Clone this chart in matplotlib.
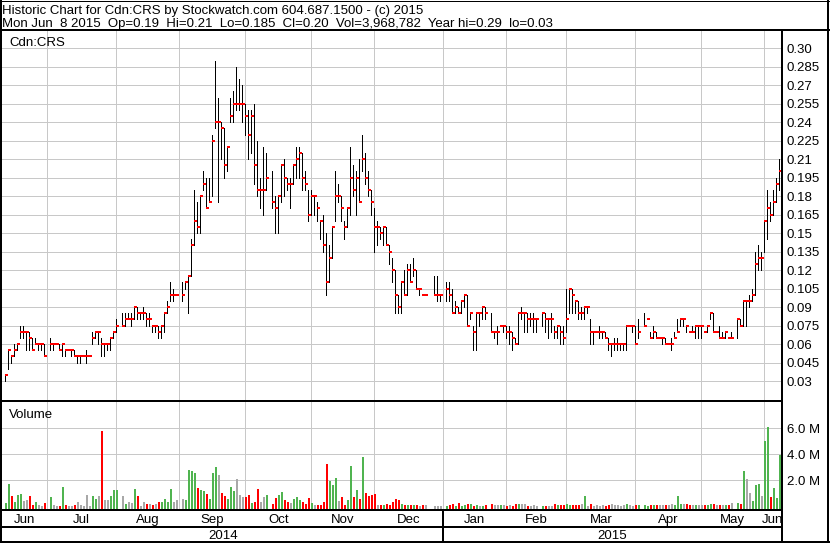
import matplotlib
matplotlib.use("Agg")
import matplotlib.pyplot as plt
import numpy as np

plt.rcParams['font.family'] = ['Liberation Sans', 'DejaVu Sans']

# daily bars, Jun 2014 - Jun 8 2015 (None = no trading / holiday)
highs = [
    .035, .055, .05, .06, .06, .075, .075, .07, .07, .065,
    .065, .06, .06, .06, None, .065, .06, .06, .06, .06,
    .055, .055, .055, .055, .05, .05, .05, .055, .05, .07,
    .07, .07, .065, .06, .06, .065, .07, .08, None, .085,
    .085, .085, .085, .09, .09, .085, .09, .085, .085, .075,
    .075, .075, .075, .085, .095, .11, .105, .10, None, .11,
    .11, .115, .145, .185, .175, .18, .20, .195, .195, .23,
    .29, .26, .24, .235, .22, .26, .265, .285, .275, .27,
    .255, .25, .25, .255, .225, .195, .22, .215, None, .20,
    .18, .18, .205, .21, .195, .195, .205, .22, .22, .215,
    .20, .185, .185, .18, .175, .16, .165, .15, .14, .155,
    .20, .19, .18, .16, .17, .22, .205, .20, .21, .23,
    .215, .20, .185, .17, .16, .155, .155, .155, .14, .13,
    .12, .10, .11, .12, .125, .125, .13, .12, .105, .10,
    .10, None, None, .115, .115, .10, None, .11, .11, .105,
    .095, .09, .095, .10, .10, .085, .075, .085, .085, .09,
    .09, None, .085, .07, .075, .075, .075, .075, .075, .07,
    .065, .085, .09, .085, .085, .085, .085, .08, None, .085,
    .085, .08, .085, .075, .075, .075, .075, .105, .105, .105,
    .095, .095, .09, .09, .09, .08, .07, .07, .075, .07,
    .07, .065, .06, .065, .065, .06, .06, .075, .075, .075,
    .075, .08, None, .085, .08, .07, .075, .07, .065, .065,
    .065, .06, .065, .07, .08, .08, .08, .075, .07, .075,
    .075, .075, .075, .07, .075, .085, .085, .07, .075, .07,
    .07, .065, .07, None, .08, .08, .095, .095, .10, .105,
    .135, .14, .135, .16, .185, .175, .185, .195, .21,
]
lows = [
    .03, .04, .045, .05, .055, .065, .065, .055, .055, .055,
    .06, .055, .055, .05, None, .055, .055, .06, .055, .05,
    .05, .055, .05, .05, .045, .045, .05, .045, .05, .06,
    .065, .06, .05, .05, .055, .055, .065, .07, None, .075,
    .075, .08, .075, .08, .08, .08, .08, .075, .075, .07,
    .07, .065, .065, .07, .085, .095, .095, .10, None, .095,
    .105, .085, .115, .14, .15, .15, .185, .17, .175, .18,
    .235, .175, .21, .195, .20, .24, .24, .25, .25, .24,
    .23, .21, .215, .19, .18, .17, .165, .185, None, .17,
    .15, .15, .175, .18, .185, .17, .19, .195, .195, .185,
    .185, .16, .165, .165, .16, .145, .135, .10, .11, .13,
    .16, .175, .16, .145, .155, .165, .18, .165, .175, .20,
    .19, .18, .165, .135, .14, .145, .14, .14, .125, .11,
    .085, .085, .085, .10, .10, .11, .115, .105, .10, .10,
    .10, None, None, .10, .095, .095, None, .095, .095, .085,
    .085, .085, .085, .09, .075, .08, .055, .055, .075, .08,
    .08, None, .07, .065, .06, .075, .07, .065, .06, .055,
    .06, .06, .08, .07, .07, .075, .07, .07, None, .075,
    .07, .065, .07, .065, .065, .06, .06, .07, .085, .085,
    .085, .08, .08, .08, .085, .06, .06, .07, .065, .065,
    .065, .055, .05, .055, .055, .055, .055, .055, .075, .07,
    .06, .065, None, .075, .08, .065, .065, .065, .065, .06,
    .06, .06, .055, .065, .07, .075, .075, .07, .07, .07,
    .065, .065, .065, .07, .07, .08, .07, .07, .065, .065,
    .065, .065, .065, None, .065, .075, .075, .075, .09, .095,
    .10, .12, .12, .135, .145, .16, .165, .175, .185,
]
closes = [
    .035, .055, .05, .055, .06, .07, .07, .07, .065, .055,
    .06, .06, .06, .05, None, .06, .06, .06, .055, .06,
    .055, .055, .055, .05, .05, .05, .05, .05, .05, .065,
    .07, .07, .06, .06, .06, .065, .07, .075, None, .075,
    .08, .08, .08, .09, .085, .085, .085, .08, .08, .075,
    .075, .07, .075, .085, .09, .10, .10, .10, None, .10,
    .11, .115, .14, .16, .155, .18, .19, .17, .175, .225,
    .24, .24, .235, .205, .22, .245, .255, .255, .255, .255,
    .245, .23, .245, .205, .185, .185, .185, .195, None, .175,
    .17, .18, .205, .195, .19, .19, .205, .21, .215, .195,
    .19, .165, .18, .18, .17, .16, .14, .11, .13, .155,
    .18, .18, .17, .155, .17, .195, .185, .195, .175, .21,
    .195, .185, .175, .155, .155, .15, .155, .14, .135, .12,
    .10, .09, .11, .10, .12, .11, .12, .105, .105, .10,
    .10, None, None, .10, .10, .10, None, .105, .10, .085,
    .09, .085, .095, .10, .075, .085, .07, .085, .085, .09,
    .085, None, .07, .07, .07, .075, .075, .07, .07, .065,
    .06, .085, .085, .085, .08, .08, .08, .08, None, .085,
    .08, .08, .08, .07, .075, .07, .065, .08, .105, .10,
    .095, .085, .085, .09, .09, .07, .07, .07, .07, .07,
    .065, .06, .06, .06, .06, .06, .06, .075, .075, .075,
    .06, .07, None, .075, .08, .065, .07, .065, .065, .065,
    .06, .06, .06, .065, .07, .08, .08, .075, .07, .07,
    .075, .075, .075, .07, .075, .085, .07, .07, .065, .065,
    .07, .065, .065, None, .08, .075, .095, .095, .095, .10,
    .125, .13, .13, .16, .17, .165, .175, .19, .20,
]
# volume in millions of shares
volumes = [
    .25, 1.7, .76, .3, .85, .9, .4, .45, .76, .1,
    .3, .05, .03, .2, None, .7, .1, .02, .03, 1.45,
    .05, .03, .03, .05, .3, .05, .02, .85, .02, .76,
    .55, .76, 5.8, .45, .45, .76, 1.2, 1.2, None, .76,
    .15, .3, .25, 1.3, .76, .02, .3, .15, .15, .05,
    .15, .3, .3, .55, .3, 1.3, .3, .45, None, .55,
    .45, 2.8, 2.7, 2.55, 1.4, 1.25, 1.15, .9, .55, 2.55,
    3.0, 2.4, 1.0, .76, .55, 1.45, 1.15, 2.1, .85, .7,
    .7, .85, .2, .3, 1.3, .3, .7, .85, None, .15,
    .6, .85, 1.05, .45, .3, .25, .55, .7, .45, .3,
    .15, .6, .2, .1, .05, .05, .3, 3.25, 1.9, 1.6,
    2.15, .37, .7, .1, .45, 3.1, .7, 1.25, .55, 3.8,
    1.0, .76, .85, .9, .1, .1, .1, .15, .05, .3,
    .5, .45, .15, .05, .1, .05, .05, .05, .03, .1,
    .05, None, None, .03, .03, .03, None, .03, .05, .15,
    .03, .2, .03, .05, .15, .15, .03, .1, .02, .02,
    .05, None, .15, .05, .1, .1, .05, .02, .1, .02,
    .15, .15, .15, .15, .02, .02, .05, .02, None, .02,
    .02, .02, .02, .15, .1, .05, .1, .15, .1, .1,
    .1, .1, .15, .76, .02, .15, .03, .05, .03, .05,
    .02, .1, .15, .05, .05, .03, .05, .15, .05, .03,
    .1, .05, None, .05, .02, .05, .1, .05, .05, .1,
    .1, .05, .15, .1, .76, .15, .15, .15, .05, .1,
    .05, .05, .05, .1, .1, .15, .15, .05, .1, .1,
    .1, .1, .25, None, .2, .15, 2.7, 2.1, 1.0, .37,
    1.6, 1.7, .76, 5.0, 6.1, .7, 1.4, .6, 3.97,
]

# first bar of each month (bar index) and the labels in between
month_starts = [14, 37, 58, 80, 102, 123, 146, 167, 187, 210, 232, 253]
month_names = ['Jun', 'Jul', 'Aug', 'Sep', 'Oct', 'Nov', 'Dec',
               'Jan', 'Feb', 'Mar', 'Apr', 'May', 'Jun']
year_start = 146
year_names = ['2014', '2015']

price_ticks = [.30, .285, .27, .255, .24, .225, .21, .195, .18, .165,
               .15, .135, .12, .105, .09, .075, .06, .045, .03]
price_labels = ['0.30', '0.285', '0.27', '0.255', '0.24', '0.225', '0.21',
                '0.195', '0.18', '0.165', '0.15', '0.135', '0.12', '0.105',
                '0.09', '0.075', '0.06', '0.045', '0.03']
vol_ticks = [2, 4, 6]
vol_labels = ['2.0 M', '4.0 M', '6.0 M']

title1 = "Historic Chart for Cdn:CRS by Stockwatch.com 604.687.1500 - (c) 2015"
title2 = ("Mon Jun  8 2015  Op=0.19  Hi=0.21  Lo=0.185  Cl=0.20  "
          "Vol=3,968,782  Year hi=0.29  lo=0.03")

W, H = 830, 543
FS = 9.5
GRID = '#c8c8c8'
GREEN, RED, GRAY = '#50b450', '#ff0000', '#a8a8a8'
X_LEFT, X_RIGHT = -1.1, 258.57
VOL_MIN, VOL_MAX = -0.24, 8.03


def px_box(x0, y0, x1, y1):
    # pixel box (top-left origin) -> figure fraction rect
    return [x0 / W, 1 - y1 / H, (x1 - x0) / W, (y1 - y0) / H]


h = np.array(highs, dtype=float)
l = np.array(lows, dtype=float)
c = np.array(closes, dtype=float)
v = np.array(volumes, dtype=float)
idx = np.arange(len(c))
ok = ~np.isnan(c)

# volume colour: up / down / unchanged vs previous close
cols = []
prev = None
for cl in c:
    if np.isnan(cl):
        cols.append(GRAY)
        continue
    if prev is None or cl > prev:
        cols.append(GREEN)
    elif cl < prev:
        cols.append(RED)
    else:
        cols.append(GRAY)
    prev = cl
cols = np.array(cols)

fig = plt.figure(figsize=(W / 100, H / 100), dpi=100)
fig.patch.set_facecolor('white')

ax = fig.add_axes(px_box(2, 31, 781, 400))
axv = fig.add_axes(px_box(2, 402, 781, 509))
axm = fig.add_axes(px_box(2, 511, 781, 526))
axy = fig.add_axes(px_box(2, 528, 781, 541))

for a in (ax, axv, axm, axy):
    a.set_xlim(X_LEFT, X_RIGHT)
    for s in a.spines.values():
        s.set_visible(False)
    a.tick_params(length=0, labelsize=FS)

# price panel
ax.set_ylim(0.01459, 0.3140)
ax.set_xticks(month_starts)
ax.set_xticklabels([])
ax.set_yticks(price_ticks)
ax.set_yticklabels(price_labels)
ax.yaxis.tick_right()
ax.tick_params(axis='y', pad=4.3)
ax.grid(True, color=GRID, lw=0.72, antialiased=False)
ax.set_axisbelow(True)
ax.vlines(idx[ok], l[ok], h[ok], color='black', lw=0.72, antialiased=False)
ax.hlines(c[ok], idx[ok], idx[ok] + 0.95, color=RED, lw=1.44,
          antialiased=False, zorder=3)
fig.text(9 / W, 1 - 46 / H, 'Cdn:CRS', fontsize=FS, va='baseline')

# volume panel
axv.set_ylim(VOL_MIN, VOL_MAX)
axv.set_xticks(month_starts)
axv.set_xticklabels([])
axv.set_yticks(vol_ticks)
axv.set_yticklabels(vol_labels)
axv.yaxis.tick_right()
axv.tick_params(axis='y', pad=4.3)
axv.grid(True, color=GRID, lw=0.72, antialiased=False)
axv.set_axisbelow(True)
axv.bar(idx[ok], v[ok] - VOL_MIN, width=0.67, bottom=VOL_MIN, align='edge',
        color=cols[ok], lw=0, antialiased=False)
fig.text(9 / W, 1 - 418 / H, 'Volume', fontsize=FS, va='baseline')

# month row
bounds = [X_LEFT] + month_starts + [X_RIGHT]
for name, a0, a1 in zip(month_names, bounds[:-1], bounds[1:]):
    axm.text((a0 + a1) / 2, 0.23, name, fontsize=FS, ha='center', va='baseline',
             transform=axm.get_xaxis_transform(), clip_on=True)
axm.set_xticks([])
axm.set_yticks([])
axm.set_ylim(0, 1)

# year row
ybounds = [X_LEFT, year_start, X_RIGHT]
for name, a0, a1 in zip(year_names, ybounds[:-1], ybounds[1:]):
    axy.text((a0 + a1) / 2, 0.12, name, fontsize=FS, ha='center', va='baseline',
             transform=axy.get_xaxis_transform())
axy.set_xticks([])
axy.set_yticks([])
for a in (axm, axy):
    a.axvline(year_start, color='black', lw=1.44, antialiased=False)

# header
fig.text(2 / W, 1 - 14 / H, title1, fontsize=FS, va='baseline')
fig.text(2 / W, 1 - 27.3 / H, title2, fontsize=FS, va='baseline')

# frame lines
fr = fig.add_axes([0, 0, 1, 1], zorder=10)
fr.set_xlim(0, W)
fr.set_ylim(H, 0)
fr.axis('off')
fr.patch.set_alpha(0)
frame_kw = dict(color='black', lw=1.44, antialiased=False, solid_capstyle='butt')
fr.plot([0, W], [0.5, 0.5], **dict(frame_kw, lw=0.72))
fr.plot([1, 1], [0, H], **frame_kw)
fr.plot([W - 2, W - 2], [0, H], **frame_kw)
fr.plot([0, W], [H - 1.5, H - 1.5], **frame_kw)
fr.plot([0, W], [30, 30], **frame_kw)
fr.plot([0, 782], [401, 401], **frame_kw)
fr.plot([0, 782], [510, 510], **frame_kw)
fr.plot([0, 782], [527, 527], **frame_kw)
fr.plot([782, 782], [30, H], **frame_kw)

fig.savefig('out.png', dpi=100, facecolor='white')
